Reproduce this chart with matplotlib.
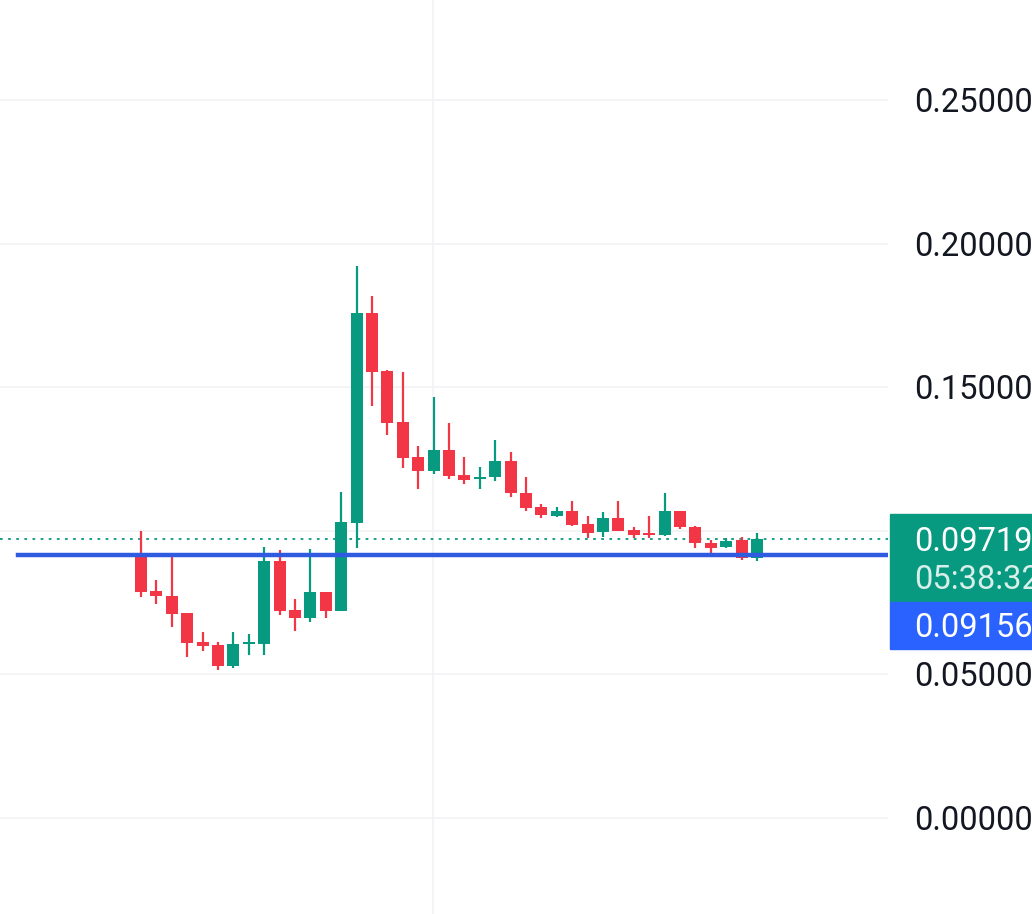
import matplotlib
matplotlib.use("Agg")
import matplotlib.pyplot as plt
from matplotlib.patches import Rectangle

opens  = [.0922,.0790,.0773,.0714,.0613,.0602,.0529,.0606,.0606,.0895,.0724,.0696,.0787,.0720,.1027,.1758,.1556,.1379,.1257,.1208,.1281,.1194,.1180,.1187,.1243,.1131,.1083,.1051,.1069,.1023,.0996,.1044,.1003,.0989,.0985,.1069,.1013,.0957,.0943,.0968,.0905]
highs  = [.0999,.0829,.0922,.0714,.0647,.0613,.0647,.0640,.0943,.0933,.0762,.0936,.0787,.1135,.1922,.1817,.1560,.1553,.1295,.1466,.1375,.1257,.1222,.1316,.1274,.1187,.1093,.1083,.1104,.1051,.1065,.1104,.1013,.1051,.1131,.1069,.1016,.0968,.0975,.0978,.0992]
lows   = [.0769,.0745,.0665,.0560,.0581,.0515,.0522,.0567,.0567,.0707,.0651,.0682,.0696,.0720,.0940,.1434,.1333,.1218,.1145,.1198,.1180,.1163,.1145,.1173,.1117,.1069,.1044,.1048,.1016,.0975,.0978,.0999,.0975,.0975,.0982,.1006,.0940,.0922,.0940,.0898,.0895]
closes = [.0787,.0773,.0710,.0609,.0599,.0529,.0606,.0613,.0895,.0720,.0696,.0787,.0720,.1030,.1758,.1553,.1375,.1253,.1208,.1281,.1191,.1177,.1187,.1243,.1131,.1079,.1055,.1069,.1020,.0992,.1044,.0999,.0985,.0985,.1069,.1013,.0957,.0940,.0964,.0905,.0972]
y_ticks = [0.0, 0.05, 0.10, 0.15, 0.20, 0.25]
y_labels = ["0.00000", "0.05000", "", "0.15000", "0.20000", "0.25000"]
last_price = 0.09719
last_label = "0.09719"
countdown = "05:38:32"
ref_price = 0.09156
ref_label = "0.09156"

UP, DN = "#089981", "#f23645"
W, H = 1032, 914
FS = 23.5
fig = plt.figure(figsize=(W/100, H/100), dpi=100)
ax = fig.add_axes([0, 0, 888/W, 1])
ax.set_xlim(-9.16, 48.5)
ax.set_ylim(-0.0334, 0.2848)
ax.axis("off")
for t in y_ticks:
    ax.axhline(t, color="#f0f2f5", lw=1.2, zorder=0)
ax.axvline(18.96, color="#f0f2f5", lw=1.2, zorder=0)

for i, (o, h, l, c) in enumerate(zip(opens, highs, lows, closes)):
    col = UP if c >= o else DN
    ax.plot([i, i], [l, h], color=col, lw=1.6, zorder=2, solid_capstyle="butt")
    b = min(o, c); hgt = max(abs(c - o), 0.0008)
    ax.add_patch(Rectangle((i - 0.39, b), 0.78, hgt, color=col, zorder=3, lw=0))

ax.axhline(last_price, color=UP, lw=1.3, ls=(0, (1.5, 3)), zorder=1)
ax.plot([-8.0, 48.5], [ref_price, ref_price], color="#2f5be0", lw=3.2, zorder=4)

fy = lambda v: (v + 0.0334) / (0.2848 + 0.0334) - 3/H
for t, lab in zip(y_ticks, y_labels):
    if lab:
        fig.text(914/W, fy(t), lab, fontsize=FS, family="Roboto", color="#131722", va="center")
fig.patches.append(Rectangle((890/W, 1-602/H), 142/W, 88/H, transform=fig.transFigure, color=UP))
fig.patches.append(Rectangle((890/W, 1-649/H), 142/W, 47/H, transform=fig.transFigure, color="#2962ff"))
fig.text(914/W, 1-542/H, last_label, fontsize=FS, family="Roboto", color="white", va="center")
fig.text(914/W, 1-580/H, countdown, fontsize=FS, family="Roboto", color="#d8efe9", va="center")
fig.text(914/W, 1-628/H, ref_label, fontsize=FS, family="Roboto", color="white", va="center")
fig.savefig("out.png", dpi=100)
